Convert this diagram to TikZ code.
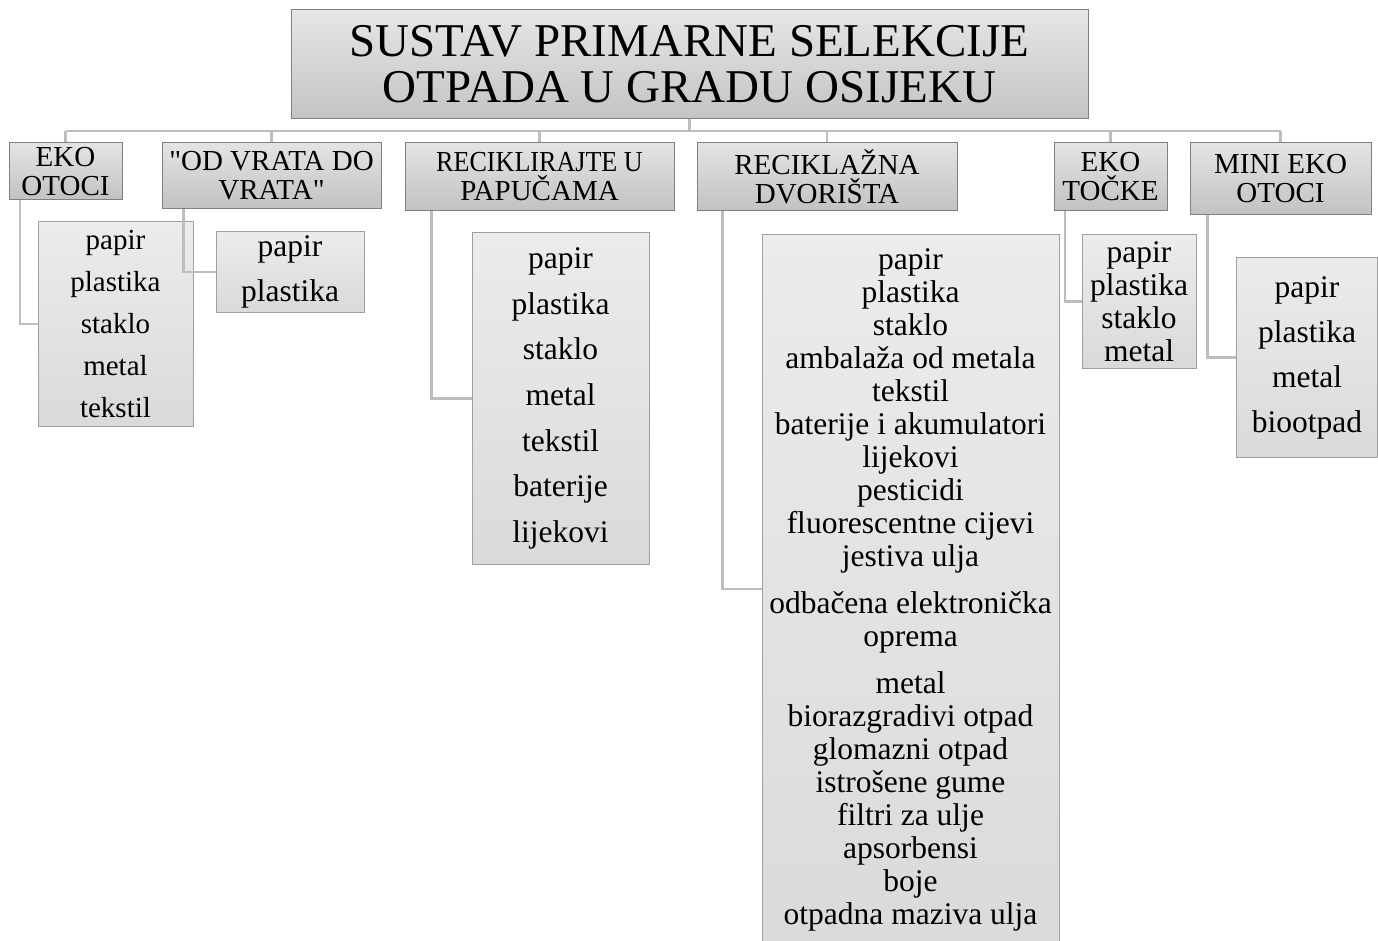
\documentclass[tikz,border=0pt]{standalone}
\usepackage{fontspec}
\setmainfont{Liberation Serif}
\newfontfamily\qfont{Liberation Serif}[Ligatures=ResetAll]
\newcommand{\sq}{{\qfont\XeTeXglyph\XeTeXglyphindex "quotedbl"\relax}}
\usetikzlibrary{calc}
\definecolor{bordc}{RGB}{128,128,128}
\definecolor{bordb}{RGB}{160,160,160}
\definecolor{ttop}{RGB}{230,230,230}
\definecolor{tbot}{RGB}{196,196,196}
\definecolor{ltop}{RGB}{228,228,228}
\definecolor{lbot}{RGB}{194,194,194}
\definecolor{stop}{RGB}{236,236,236}
\definecolor{sbot}{RGB}{218,218,218}
\definecolor{connc}{RGB}{190,190,190}
\tikzset{
  box/.style={draw=bordc, line width=1pt, align=center, inner sep=0pt, text=black},
  titlebox/.style={box, top color=ttop, bottom color=tbot, font=\fontsize{47}{46}\selectfont},
  lone/.style={box, top color=ltop, bottom color=lbot, font=\fontsize{29}{29}\selectfont},
  ltwo/.style={box, draw=bordb, top color=stop, bottom color=sbot},
  conn/.style={draw=connc, line width=2.5pt},
}
\begin{document}
\begin{tikzpicture}[x=1pt,y=-1pt]
\useasboundingbox (0,0) rectangle (1378,941);
% title
\node[titlebox, minimum width=797pt, minimum height=109pt] (title) at (689.5,64.5) {SUSTAV PRIMARNE SELEKCIJE\\OTPADA U GRADU OSIJEKU};
% level one
\node[lone, minimum width=113pt, minimum height=57pt] (eko) at (65.5,171.5) {EKO\\OTOCI};
\node[lone, minimum width=219pt, minimum height=66pt] (vrata) at (271.5,176) {\sq OD VRATA DO\\VRATA\sq};
\node[lone, minimum width=269pt, minimum height=68pt] (pap) at (539.5,177) {\scalebox{0.9}[1]{RECIKLIRAJTE U}\\PAPUČAMA};
\node[lone, minimum width=260pt, minimum height=68pt] (dv) at (827,177) {RECIKLAŽNA\\DVORIŠTA};
\node[lone, minimum width=113pt, minimum height=68pt] (tocke) at (1110.5,177) {EKO\\TOČKE};
\node[lone, minimum width=181pt, minimum height=72pt] (mini) at (1280.5,179) {MINI EKO\\OTOCI};
% level two
\node[ltwo, minimum width=155pt, minimum height=204pt, font=\fontsize{29}{42}\selectfont] (eko2) at (115.5,324) {papir\\plastika\\staklo\\metal\\tekstil};
\node[ltwo, minimum width=148pt, minimum height=80pt, font=\fontsize{31.5}{45}\selectfont] (vrata2) at (290,272) {papir\\plastika};
\node[ltwo, minimum width=177pt, minimum height=331pt, font=\fontsize{31.5}{45.7}\selectfont] (pap2) at (560.5,398.5) {papir\\plastika\\staklo\\metal\\tekstil\\baterije\\lijekovi};
\node[ltwo, minimum width=297pt, minimum height=726pt, anchor=north west] (dv2) at (762,234) {};
\node[font=\fontsize{31.5}{33}\selectfont, align=center, inner sep=0pt, anchor=north] (dv2t) at (910.5,248) {papir\\plastika\\staklo\\ambalaža od metala\\tekstil\\baterije i akumulatori\\lijekovi\\pesticidi\\fluorescentne cijevi\\jestiva ulja\\[14pt]odbačena elektronička\\oprema\\[14pt]metal\\biorazgradivi otpad\\glomazni otpad\\istrošene gume\\filtri za ulje\\apsorbensi\\boje\\otpadna maziva ulja};
\node[ltwo, minimum width=114pt, minimum height=133pt, font=\fontsize{31.5}{33}\selectfont] (tocke2) at (1139,301.5) {papir\\plastika\\staklo\\metal};
\node[ltwo, minimum width=141pt, minimum height=199pt, font=\fontsize{31.5}{45}\selectfont] (mini2) at (1307,357.5) {papir\\plastika\\metal\\biootpad};
% bus
\coordinate (busL) at (65.5,131);
\coordinate (busR) at (1280.5,131);
\draw[conn] (busL) -- (busR);
\draw[conn] (title.south) -- (title.south |- busL);
\foreach \n in {eko,vrata,pap,dv,tocke,mini} {
  \draw[conn] (\n.north) -- (\n.north |- busL);
}
% elbow connectors
\foreach \p/\c in {eko/eko2,vrata/vrata2,pap/pap2,tocke/tocke2,mini/mini2} {
  \draw[conn] ($(\p.south west)!0.1!(\p.south east)$) |- (\c.west);
}
\draw[conn] ($(dv.south west)!0.1!(dv.south east)$) |- ($(dv2.north west)+(0,355)$);
\end{tikzpicture}
\end{document}
